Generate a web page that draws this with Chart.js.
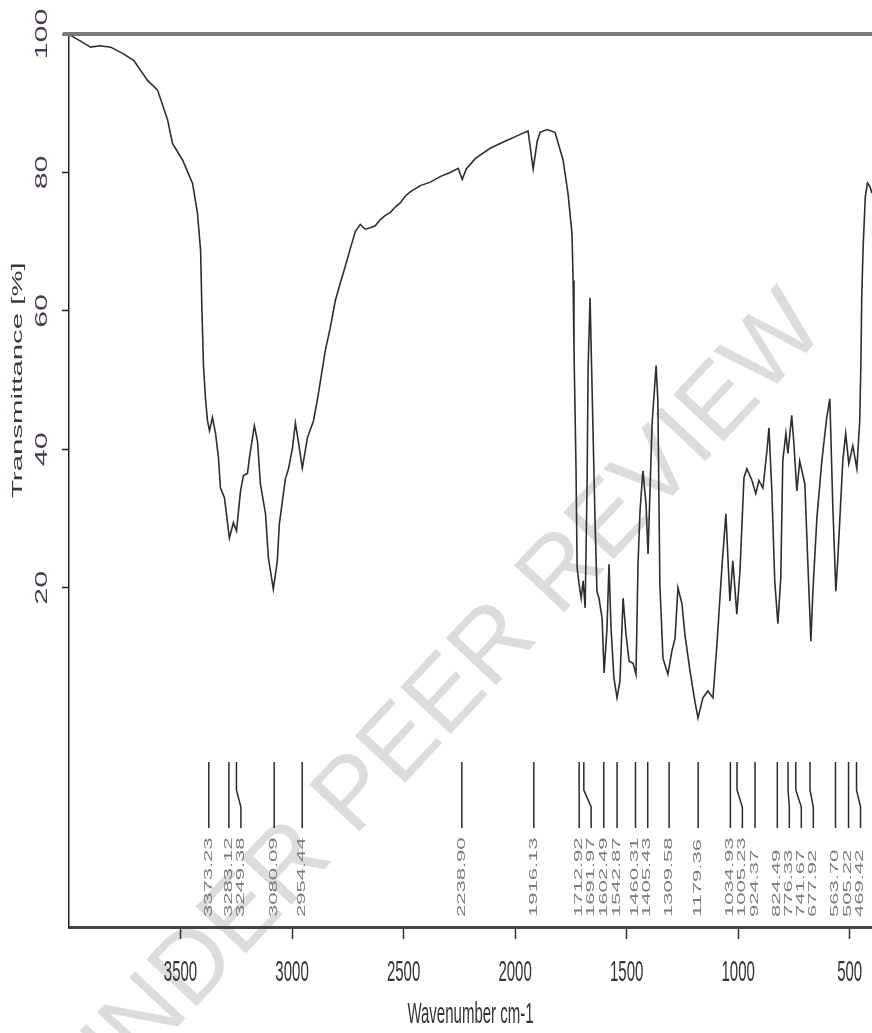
<!DOCTYPE html>
<html>
<head>
<meta charset="utf-8">
<script src="https://cdn.jsdelivr.net/npm/chart.js@4.4.1/dist/chart.umd.min.js"></script>
<style>
  html, body { margin: 0; padding: 0; background: #fff; }
  canvas { display: block; }
</style>
</head>
<body>
<canvas id="chart" width="872" height="1033"></canvas>
<script>
// IR spectrum
const wavenumbers = [4000, 3993, 3950, 3903, 3860, 3813, 3760, 3710, 3648, 3603, 3558, 3536, 3491, 3446, 3424, 3410, 3404,
  3397, 3388, 3379, 3370, 3357, 3343, 3330, 3321, 3303, 3281, 3263, 3249, 3231, 3218, 3200, 3191, 3169, 3155, 3142,
  3119, 3106, 3084, 3066, 3057, 3043, 3030, 3016, 2998, 2985, 2972, 2954, 2931, 2904, 2882, 2851, 2829, 2806, 2784,
  2761, 2739, 2716, 2694, 2672, 2649, 2627, 2604, 2582, 2560, 2537, 2515, 2492, 2470, 2425, 2380, 2336, 2291, 2255,
  2237, 2219, 2179, 2112, 2045, 1977, 1942, 1919, 1901, 1888, 1857, 1821, 1785, 1763, 1745, 1740, 1736, 1727, 1722,
  1713, 1704, 1695, 1686, 1677, 1673, 1664, 1651, 1642, 1633, 1624, 1610, 1601, 1588, 1579, 1570, 1557, 1543, 1530,
  1516, 1503, 1489, 1471, 1458, 1449, 1440, 1427, 1413, 1404, 1386, 1368, 1360, 1351, 1337, 1315, 1297, 1283, 1270,
  1252, 1239, 1216, 1194, 1180, 1158, 1136, 1113, 1095, 1073, 1055, 1037, 1024, 1006, 992, 974, 961, 938, 921, 907,
  889, 871, 862, 849, 836, 822, 809, 800, 786, 777, 760, 751, 737, 724, 701, 688, 674, 665, 647, 625, 603, 589, 576,
  562, 553, 531, 518, 504, 486, 468, 455, 450, 446, 440, 430, 420, 410, 400];
const transmittance = [100, 99.8, 99, 98.1, 98.3, 98.1, 97.2, 96.2, 93.3, 91.9, 87.6, 84.2, 81.8, 78.4, 74.1, 68.7, 60,
  52, 47.3, 44.1, 42.7, 44.6, 42.3, 38.8, 34.4, 33.0, 27.2, 29.4, 28.2, 34.0, 36.2, 36.5, 38.8, 43.4, 41.2, 35.0,
  30.7, 24.3, 19.8, 23.9, 29.2, 32.6, 35.7, 37.2, 40.2, 43.8, 41.2, 37.3, 41.7, 44.1, 48.0, 54.3, 57.5, 61.5, 64,
  66.5, 69, 71.5, 72.5, 71.8, 72, 72.3, 73.2, 73.8, 74.2, 75, 75.6, 76.6, 77.2, 78.1, 78.6, 79.4, 80, 80.6,
  79, 80.5, 82, 83.5, 84.5, 85.5, 86, 80.5, 84.5, 85.8, 86.2, 85.8, 81.8, 77, 71.2, 64.4, 54.3, 37.3, 22.9,
  20.5, 18.5, 21, 17.1, 35.9, 51.4, 61.9, 43.1, 30.1, 19.5, 18.5, 15.6, 7.7, 14.2, 23.4, 14.2, 7, 4.1, 6.5,
  18.5, 13.3, 9.4, 9.1, 7.5, 23.4, 31.1, 36.9, 32.1, 24.9, 43.7, 52.1, 47, 20.5, 9.8, 7.5, 10.9, 12.7, 20,
  17.7, 13.3, 8, 3.6, 1.2, 4.1, 5.1, 4.1, 11.9, 22.9, 30.7, 18.1, 23.9, 16.2, 22.4, 35.9, 37.2, 35.5, 33.6, 35.5,
  34.4, 39.8, 43.1, 34, 21, 14.8, 21.4, 38.3, 42.3, 39.4, 44.9, 41.2, 34, 38.3, 35, 23.9, 12.3, 19.5, 30.1, 38.3,
  44.6, 47.3, 32.1, 19.5, 24.3, 38.3, 42.3, 37.9, 40.5, 37.2, 44.1, 52, 62, 69, 76.5, 78.5, 78, 77];

// labelled peaks
const peakWavenumbers = [3373.23, 3283.12, 3249.38, 3080.09, 2954.44, 2238.90, 1916.13, 1712.92, 1691.97, 1602.49,
  1542.87, 1460.31, 1405.43, 1309.58, 1179.36, 1034.93, 1005.23, 924.37, 824.49, 776.33, 741.67, 677.92,
  563.70, 505.22, 469.42];

const xTicks = [3500, 3000, 2500, 2000, 1500, 1000, 500];
const yTicks = [20, 40, 60, 80, 100];

const FONT = "'Liberation Sans', Arial, sans-serif";

// the original picture is stretched vertically, so text is drawn stretched too
function stretchedText(ctx, text, x, y, size, color, opts = {}) {
  ctx.save();
  ctx.translate(x, y);
  ctx.scale(1, opts.sy || 1);
  if (opts.rot) ctx.rotate(opts.rot);
  ctx.font = size + 'px ' + FONT;
  ctx.fillStyle = color;
  ctx.textAlign = opts.align || 'center';
  ctx.textBaseline = 'middle';
  ctx.fillText(text, 0, 0);
  ctx.restore();
}

const watermark = {
  id: 'watermark',
  beforeDraw(chart) {
    const ctx = chart.ctx;
    ctx.save();
    ctx.fillStyle = '#fff';
    ctx.fillRect(0, 0, chart.width, chart.height);
    ctx.translate(440, 705);
    ctx.rotate(-47 * Math.PI / 180);
    ctx.font = '100px ' + FONT;
    ctx.fillStyle = '#dcdcdc';
    ctx.textAlign = 'center';
    ctx.textBaseline = 'middle';
    ctx.fillText('UNDER PEER REVIEW', 0, 0);
    ctx.restore();
  }
};

const decorations = {
  id: 'decorations',
  afterDraw(chart) {
    const ctx = chart.ctx;
    const x = chart.scales.x;
    const y = chart.scales.y;
    const area = chart.chartArea;

    // top frame line at 100 %
    const yTop = y.getPixelForValue(100);
    ctx.save();
    ctx.strokeStyle = '#7a7a7a';
    ctx.lineWidth = 4;
    ctx.beginPath();
    ctx.moveTo(area.left - 6, yTop);
    ctx.lineTo(area.right, yTop);
    ctx.stroke();
    ctx.restore();

    // y tick labels and title
    y.ticks.forEach(t => {
      stretchedText(ctx, String(t.value), 43, y.getPixelForValue(t.value), 16, '#4a3a50', { sy: 1.9, rot: -Math.PI / 2 });
    });
    stretchedText(ctx, 'Transmittance [%]', 18, y.getPixelForValue(50), 14, '#3d3346', { sy: 2.1, rot: -Math.PI / 2 });

    // x tick labels and title
    x.ticks.forEach(t => {
      stretchedText(ctx, String(t.value), x.getPixelForValue(t.value), area.bottom + 46, 15, '#333', { sy: 2.0 });
    });
    stretchedText(ctx, 'Wavenumber cm-1', (area.left + area.right) / 2, area.bottom + 88, 15, '#333', { sy: 2.0 });

    // peak markers
    const top = area.bottom - 165, bend1 = area.bottom - 137, bend2 = area.bottom - 120, bottom = area.bottom - 99;
    let prev = -Infinity;
    ctx.save();
    ctx.strokeStyle = '#2a2a2a';
    ctx.lineWidth = 1.5;
    peakWavenumbers.forEach(w => {
      const px = x.getPixelForValue(w);
      const lx = Math.max(px, prev + 12);
      prev = lx;
      ctx.beginPath();
      ctx.moveTo(px, top);
      ctx.lineTo(px, bend1);
      ctx.lineTo(lx, bend2);
      ctx.lineTo(lx, bottom);
      ctx.stroke();
      stretchedText(ctx, w.toFixed(2), lx, area.bottom - 10, 10, '#7a7a7a', { sy: 2.2, rot: -Math.PI / 2, align: 'left' });
    });
    ctx.restore();
  }
};

new Chart(document.getElementById('chart'), {
  type: 'line',
  data: {
    datasets: [{
      data: wavenumbers.map((w, i) => ({ x: w, y: transmittance[i] })),
      borderColor: '#2e2e2e',
      borderWidth: 1.6,
      pointRadius: 0,
      fill: false,
      tension: 0,
    }],
  },
  options: {
    responsive: false,
    animation: false,
    devicePixelRatio: 1,
    layout: { padding: { top: 34, right: 0, left: 0, bottom: 0 } },
    plugins: { legend: { display: false }, tooltip: { enabled: false } },
    scales: {
      x: {
        type: 'linear',
        reverse: true,
        min: 400,
        max: 4000,
        afterBuildTicks: s => { s.ticks = xTicks.map(v => ({ value: v })); },
        afterFit: s => { s.height = 106; },
        ticks: { display: false },
        grid: { drawOnChartArea: false, drawTicks: true, tickLength: 12, tickColor: '#333', tickWidth: 1.5 },
        border: { display: true, color: '#444', width: 3 },
      },
      y: {
        type: 'linear',
        min: -29,
        max: 100,
        afterBuildTicks: s => { s.ticks = yTicks.map(v => ({ value: v })); },
        afterFit: s => { s.width = 69; },
        ticks: { display: false },
        grid: { drawOnChartArea: false, drawTicks: true, tickLength: 7, tickColor: '#222', tickWidth: 1.5 },
        border: { display: true, color: '#222', width: 1.5 },
      },
    },
  },
  plugins: [watermark, decorations],
});
</script>
</body>
</html>
